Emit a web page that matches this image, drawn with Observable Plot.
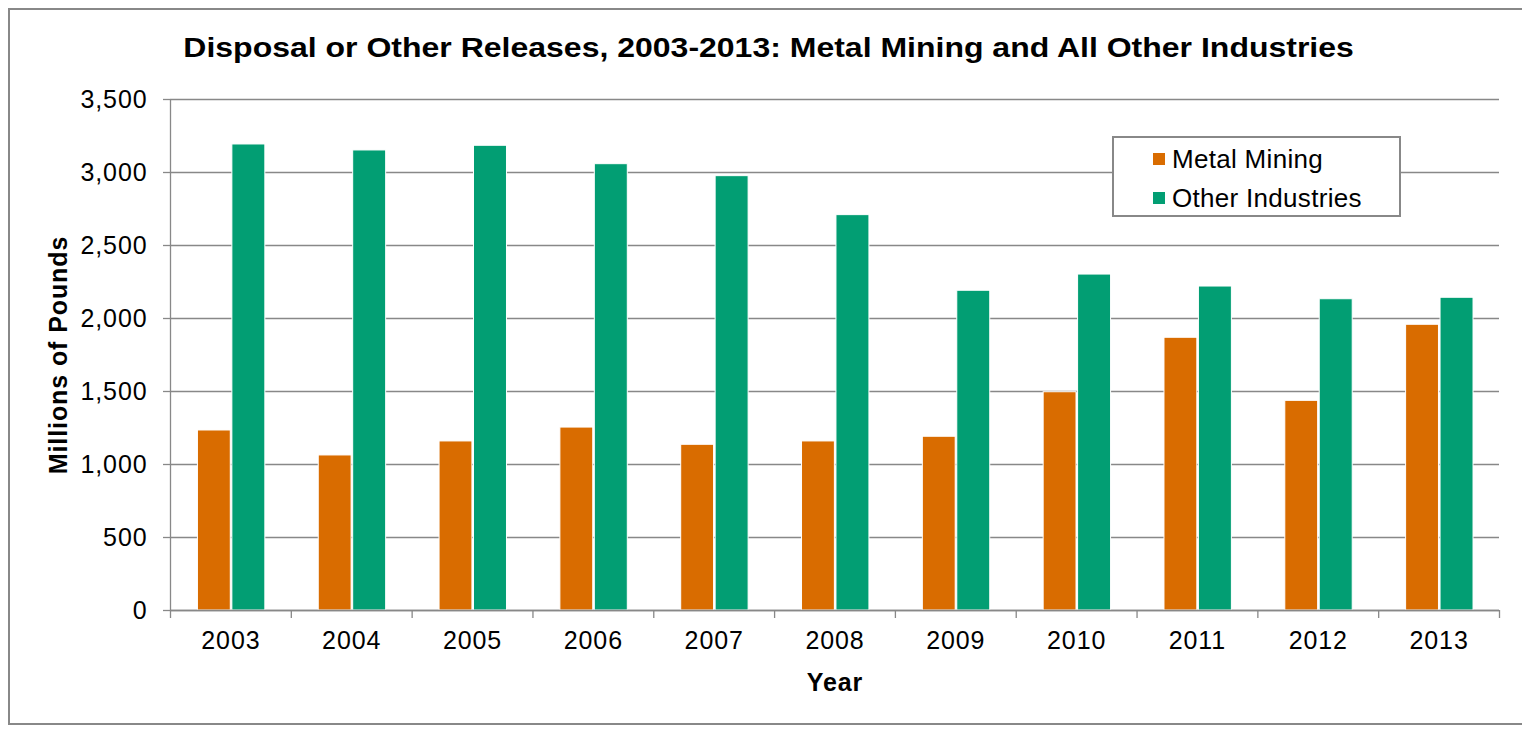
<!DOCTYPE html>
<html>
<head>
<meta charset="utf-8">
<script src="https://cdn.jsdelivr.net/npm/d3@7"></script>
<script src="https://cdn.jsdelivr.net/npm/@observablehq/plot@0.6"></script>
<style>
  html, body { margin: 0; padding: 0; background: #fff; }
  body { width: 1522px; height: 729px; position: relative; overflow: hidden; font-family: "Liberation Sans", Arial, sans-serif; }
  #frame { position: absolute; left: 8px; top: 8px; width: 1540px; height: 717px; border: 2px solid #888; box-sizing: border-box; }
  #title { position: absolute; left: 0; width: 1537px; top: 30px; text-align: center; font-weight: bold; font-size: 27px; line-height: 36px; color: #000; transform: scaleX(1.185); transform-origin: 768px 0; white-space: nowrap; }
  #chart { position: absolute; left: 0; top: 80px; }
  #legend { position: absolute; left: 1112px; top: 136px; width: 289px; height: 81px; border: 2px solid #888; box-sizing: border-box; background: #fff; }
  .item { position: absolute; left: 39px; height: 30px; display: flex; align-items: center; font-size: 26px; letter-spacing: 0.3px; color: #000; white-space: nowrap; }
  .sw { width: 12px; height: 12px; margin-right: 7px; display: inline-block; }
</style>
</head>
<body>
<div id="frame"></div>
<div id="title">Disposal or Other Releases, 2003-2013: Metal Mining and All Other Industries</div>
<div id="chart"></div>
<div id="legend"></div>
<script>
// ---- data ----
const years = [2003, 2004, 2005, 2006, 2007, 2008, 2009, 2010, 2011, 2012, 2013];
const metalMining = [1233, 1062, 1158, 1253, 1135, 1158, 1190, 1495, 1868, 1436, 1957];
const otherIndustries = [3192, 3151, 3183, 3057, 2975, 2708, 2190, 2301, 2219, 2132, 2142];
const seriesNames = ["Metal Mining", "Other Industries"];
const seriesColors = ["#D96C00", "#029E73"];
const yTicks = [0, 500, 1000, 1500, 2000, 2500, 3000, 3500];

// ---- build table ----
const rows = [];
years.forEach((yr, i) => {
  rows.push({year: yr, series: seriesNames[0], value: metalMining[i], x1: yr - 0.273, x2: yr - 0.001});
  rows.push({year: yr, series: seriesNames[1], value: otherIndustries[i], x1: yr + 0.012, x2: yr + 0.285});
});
const bounds = [years[0] - 0.5, ...years.map(y => y + 0.5)];

const font = "Liberation Sans, Arial, sans-serif";
const chart = Plot.plot({
  width: 1522,
  height: 620,
  marginLeft: 170,
  marginRight: 23,
  marginTop: 19,
  marginBottom: 90,
  style: {fontFamily: font, background: "transparent", overflow: "visible", color: "#000", letterSpacing: "0.9px"},
  x: {type: "linear", domain: [bounds[0], bounds[bounds.length - 1]]},
  y: {domain: [0, 3500]},
  color: {domain: seriesNames, range: seriesColors},
  marks: [
    Plot.gridY(yTicks, {stroke: "#888", strokeOpacity: 1, strokeWidth: 1.3}),
    Plot.rectY(rows, {x1: "x1", x2: "x2", y: "value", fill: "series", stroke: "#fff", strokeWidth: 1}),
    Plot.ruleY([0], {stroke: "#888", strokeWidth: 1.3}),
    Plot.ruleX([bounds[0]], {stroke: "#888", strokeWidth: 1.3}),
    Plot.axisY(yTicks, {tickSize: 7, tickPadding: 16, tickFormat: d3.format(","), stroke: "#888", strokeWidth: 1.3, fill: "#000", fontSize: 25, label: null}),
    Plot.axisX(bounds, {tickSize: 8, tickFormat: () => "", stroke: "#888", strokeWidth: 1.3, label: null}),
    Plot.axisX(years, {tickSize: 0, tickPadding: 21, tickFormat: d => String(d), fill: "#000", fontSize: 25, label: null}),
    Plot.text(["Millions of Pounds"], {frameAnchor: "left", dx: -112, rotate: -90, textAnchor: "middle", fontWeight: "bold", fontSize: 25, fill: "#000"}),
    Plot.text(["Year"], {frameAnchor: "bottom", dy: 72, textAnchor: "middle", lineAnchor: "middle", fontWeight: "bold", fontSize: 25, fill: "#000"})
  ]
});
document.getElementById("chart").appendChild(chart);

// ---- legend ----
const legend = document.getElementById("legend");
seriesNames.forEach((name, i) => {
  const item = document.createElement("div");
  item.className = "item";
  item.style.top = (6 + i * 39) + "px";
  const sw = document.createElement("span");
  sw.className = "sw";
  sw.style.background = seriesColors[i];
  item.appendChild(sw);
  item.appendChild(document.createTextNode(name));
  legend.appendChild(item);
});
</script>
</body>
</html>
